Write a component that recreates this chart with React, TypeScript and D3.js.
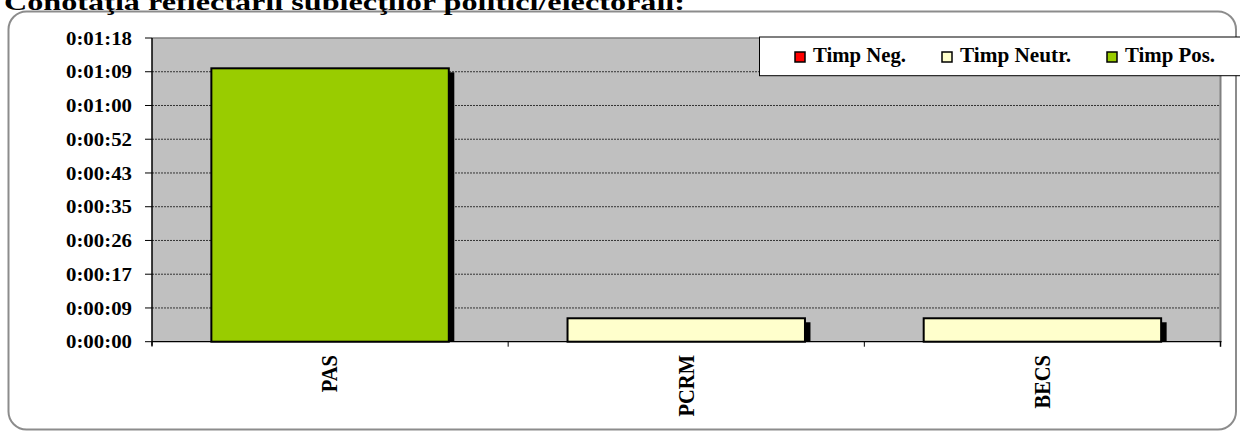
import React from "react";
import * as d3 from "d3";

// ---- Data ----
const categories = ["PAS", "PCRM", "BECS"];
const seriesNames = ["Timp Neg.", "Timp Neutr.", "Timp Pos."];
const timpNeg = [0, 0, 0]; // seconds
const timpNeutr = [0, 6, 6];
const timpPos = [70, 0, 0];
const yTickValues = [0, 8.64, 17.28, 25.92, 34.56, 43.2, 51.84, 60.48, 69.12, 77.76];
const yTickLabels = ["0:00:00", "0:00:09", "0:00:17", "0:00:26", "0:00:35", "0:00:43", "0:00:52", "0:01:00", "0:01:09", "0:01:18"];
const seriesColors = ["#FF0000", "#FFFFCC", "#99CC00"];
const titleText = "Conotaţia reflectării subiecţilor politici/electorali:";

const W = 1240;
const H = 432;
const plotLeft = 152;
const plotRight = 1220.5;
const plotTop = 38;
const plotBottom = 341.7;
const FONT = "'Liberation Serif', 'Times New Roman', serif";

export default function App() {
  const series = [timpNeg, timpNeutr, timpPos];
  const x = d3.scaleBand<string>().domain(categories).range([plotLeft, plotRight]).paddingInner(1 / 3).paddingOuter(1 / 6);
  const y = d3.scaleLinear().domain([0, yTickValues[yTickValues.length - 1]]).range([plotBottom, plotTop]);

  const table = categories.map((c, i) => {
    const row: any = { cat: c };
    seriesNames.forEach((s, k) => (row[s] = series[k][i]));
    return row;
  });
  const stacked = d3.stack().keys(seriesNames)(table);

  const step = x.step();
  const boundaries = d3.range(categories.length + 1).map((i) => plotLeft + i * step);

  const legendTextW = [93, 111, 90];
  const legendX: number[] = [];
  let lx = 795;
  legendTextW.forEach((w) => {
    legendX.push(lx);
    lx += 18 + w + 36;
  });

  return (
    <svg width={W} height={H} style={{ position: "absolute", left: 0, top: 0, background: "#fff" }} fontFamily={FONT} fontWeight="bold">
      <defs>
        <clipPath id="plotClip">
          <rect x={plotLeft} y={plotTop} width={plotRight - plotLeft} height={plotBottom - plotTop} />
        </clipPath>
      </defs>
      {/* outer rounded border */}
      <rect x={8.5} y={11.5} width={1227.5} height={418} rx={18} ry={18} fill="#fff" stroke="#8c8c8c" strokeWidth={2} />
      {/* title */}
      <text x={4} y={9.5} fontSize={24} textLength={681} lengthAdjust="spacingAndGlyphs" fill="#000">
        {titleText}
      </text>
      {/* plot area */}
      <rect x={plotLeft} y={plotTop} width={plotRight - plotLeft} height={plotBottom - plotTop} fill="#C0C0C0" />
      {/* gridlines */}
      {yTickValues.slice(1, -1).map((v, i) => (
        <line key={"g" + i} x1={plotLeft} x2={plotRight} y1={y(v)} y2={y(v)} stroke="#333" strokeWidth={1} strokeDasharray="2,1" />
      ))}
      {/* top & right borders */}
      <line x1={plotLeft} x2={plotRight} y1={plotTop} y2={plotTop} stroke="#808080" strokeWidth={1.5} />
      <line x1={plotRight} x2={plotRight} y1={plotTop} y2={plotBottom + 5} stroke="#808080" strokeWidth={2} />
      {/* bars */}
      <g clipPath="url(#plotClip)">
        {stacked.map((s, k) =>
          s.map((d, i) =>
            d[1] - d[0] > 0 ? (
              <rect key={"sh" + k + i} x={x(categories[i])! + 5.5} y={y(d[1]) + 4} width={x.bandwidth()} height={y(d[0]) - y(d[1])} fill="#000" />
            ) : null
          )
        )}
      </g>
      {stacked.map((s, k) =>
        s.map((d, i) =>
          d[1] - d[0] > 0 ? (
            <rect key={"b" + k + i} x={x(categories[i])!} y={y(d[1])} width={x.bandwidth()} height={y(d[0]) - y(d[1])} fill={seriesColors[k]} stroke="#000" strokeWidth={2} />
          ) : null
        )
      )}
      {/* y axis */}
      <line x1={plotLeft} x2={plotLeft} y1={plotTop} y2={plotBottom + 4} stroke="#000" strokeWidth={1.5} />
      {yTickValues.map((v, i) => (
        <g key={"yt" + i}>
          <line x1={plotLeft - 7} x2={plotLeft} y1={y(v)} y2={y(v)} stroke="#000" strokeWidth={1} />
          <text x={66} y={y(v)} dy="0.35em" fontSize={19} textLength={66} lengthAdjust="spacingAndGlyphs" fill="#000">
            {yTickLabels[i]}
          </text>
        </g>
      ))}
      {/* x axis */}
      <line x1={plotLeft} x2={plotRight + 1} y1={plotBottom} y2={plotBottom} stroke="#000" strokeWidth={1.2} />
      {boundaries.map((bx, i) => (
        <line key={"xt" + i} x1={bx} x2={bx} y1={plotBottom} y2={plotBottom + 5} stroke="#000" strokeWidth={1} />
      ))}
      {categories.map((c) => (
        <text
          key={c}
          transform={`translate(${x(c)! + x.bandwidth() / 2 - 0.5},355) scale(1.1,1) rotate(-90)`}
          textAnchor="end"
          dy="0.35em"
          fontSize={20.5}
          fill="#000"
        >
          {c}
        </text>
      ))}
      {/* legend */}
      <rect x={759.5} y={37} width={520} height={38.7} fill="#fff" stroke="#000" strokeWidth={1} />
      {seriesNames.map((s, k) => (
        <g key={s}>
          <rect x={legendX[k]} y={52} width={10} height={10} fill={seriesColors[k]} stroke="#000" strokeWidth={1.5} />
          <text x={legendX[k] + 18} y={61.7} fontSize={20} textLength={legendTextW[k]} lengthAdjust="spacingAndGlyphs" fill="#000">
            {s}
          </text>
        </g>
      ))}
    </svg>
  );
}
